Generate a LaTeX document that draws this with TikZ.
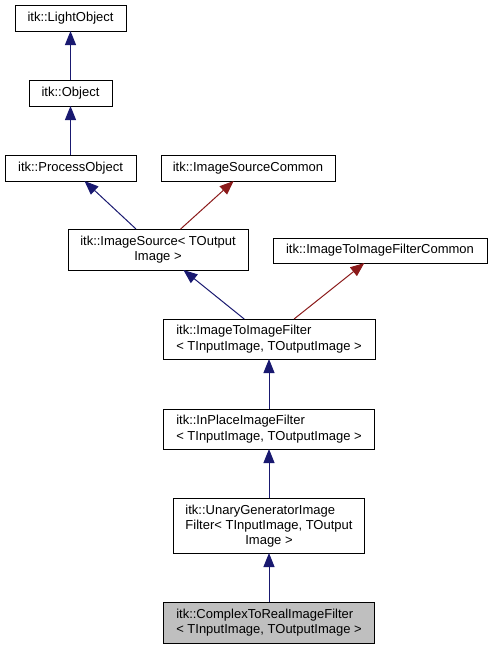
\documentclass[tikz,border=0pt]{standalone}
\usepackage{fontspec}
\setmainfont{Liberation Sans}
\usetikzlibrary{arrows.meta}
\definecolor{pubedge}{HTML}{191970}
\definecolor{tmpledge}{HTML}{8B1A1A}
\definecolor{curfill}{HTML}{BFBFBF}
\begin{document}
\begin{tikzpicture}
  [x=1pt,y=-1pt,
   klass/.style={rectangle,draw=black,fill=white,line width=1pt,align=left,
                 outer sep=0,inner sep=0,minimum height=26pt},
   current/.style={klass,fill=curfill},
   inherit/.style={draw=pubedge,line width=1pt,-{Triangle[length=14pt,width=11pt]}},
   usage/.style={draw=tmpledge,line width=1pt,-{Triangle[length=14pt,width=11pt]}}]
  \fontsize{13}{15.3}\selectfont
  \useasboundingbox (0,0) rectangle (492,648);
  \node[klass,minimum width=111pt] (lightobj) at (70.5,18) {itk::LightObject};
  \node[klass,minimum width=83pt] (obj) at (70.5,93) {itk::Object};
  \node[klass,minimum width=131pt] (procobj) at (70.5,168) {itk::ProcessObject};
  \node[klass,minimum width=174pt] (srccommon) at (248,168) {itk::ImageSourceCommon};
  \node[klass,align=center,minimum width=180pt,minimum height=41pt] (imgsrc) at (158,249.5) {itk::ImageSource< TOutput\\Image >};
  \node[klass,minimum width=214pt,minimum height=25pt] (filtcommon) at (380,250.5) {itk::ImageToImageFilterCommon};
  \node[klass,minimum width=212pt,minimum height=40pt] (imgfilt) at (269,339) {itk::ImageToImageFilter\\< TInputImage, TOutputImage >};
  \node[klass,minimum width=211pt,minimum height=40pt] (inplace) at (269,429) {itk::InPlaceImageFilter\\< TInputImage, TOutputImage >};
  \node[klass,align=center,minimum width=191pt,minimum height=55pt] (unarygen) at (269,525.5)
    {\begin{tabular}[b]{@{}l@{}}itk::UnaryGeneratorImage\\Filter< TInputImage, TOutput\end{tabular}\\Image >};
  \node[current,minimum width=211pt,minimum height=41pt] (cplxfilt) at (269,622.5) {itk::ComplexToRealImageFilter\\< TInputImage, TOutputImage >};
  \draw[inherit] (obj) to (lightobj);
  \draw[inherit] (procobj) to (obj);
  \draw[inherit] (imgsrc) to (procobj);
  \draw[usage] (imgsrc) to (srccommon);
  \draw[inherit] (imgfilt) to (imgsrc);
  \draw[usage] (imgfilt) to (filtcommon);
  \draw[inherit] (inplace) to (imgfilt);
  \draw[inherit] (unarygen) to (inplace);
  \draw[inherit] (cplxfilt) to (unarygen);
\end{tikzpicture}
\end{document}
